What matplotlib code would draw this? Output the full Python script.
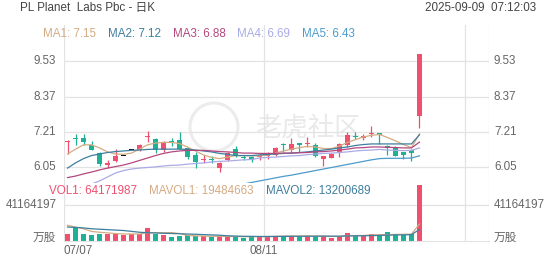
import numpy as np
import matplotlib
matplotlib.use('Agg')
import matplotlib.pyplot as plt
import matplotlib.transforms as mtrans
from matplotlib.patches import Ellipse

plt.rcParams['font.family'] = ['Liberation Sans', 'Noto Sans CJK SC', 'DejaVu Sans']

# K-line data, 45 trading days from 07/07
opens  = [6.87, 7.01, 7.02, 6.79, 6.51, 6.12, 6.25, 6.44, 6.62, 6.62,
          7.04, 6.98, 6.62, 6.92, 6.95, 6.68, 6.46, 6.31, 6.34, 6.02,
          6.30, 6.65, 6.40, 6.39, 6.38, 6.42, 6.46, 6.82, 6.62, 6.84,
          6.82, 6.79, 6.32, 6.37, 6.51, 6.79, 7.09, 7.00, 7.15, 7.17,
          6.75, 6.73, 6.55, 6.62, 7.73]
highs  = [6.95, 7.15, 7.13, 6.93, 6.54, 6.28, 6.65, 6.44, 6.62, 6.82,
          7.24, 7.01, 6.93, 7.03, 7.22, 6.72, 6.57, 6.46, 6.44, 6.24,
          6.55, 6.75, 6.46, 6.43, 6.51, 6.55, 6.73, 6.84, 7.00, 6.86,
          7.06, 6.84, 6.44, 6.51, 6.84, 7.22, 7.22, 7.15, 7.41, 7.18,
          6.77, 6.75, 6.56, 6.65, 9.76]
lows   = [6.49, 6.79, 6.77, 6.62, 6.10, 6.02, 6.23, 6.44, 6.62, 6.59,
          6.87, 6.51, 6.57, 6.75, 6.64, 6.33, 6.04, 6.21, 6.21, 5.89,
          6.26, 6.39, 6.30, 6.24, 6.30, 6.33, 6.44, 6.57, 6.51, 6.57,
          6.73, 6.38, 6.10, 6.35, 6.38, 6.73, 6.97, 6.95, 7.06, 6.82,
          6.46, 6.43, 6.32, 6.27, 7.33]
closes = [6.92, 6.97, 6.87, 6.63, 6.15, 6.21, 6.44, 6.44, 6.62, 6.80,
          7.09, 6.61, 6.89, 6.87, 6.67, 6.38, 6.22, 6.34, 6.31, 6.19,
          6.51, 6.44, 6.37, 6.31, 6.42, 6.46, 6.68, 6.78, 6.82, 6.80,
          6.86, 6.43, 6.43, 6.48, 6.82, 7.11, 7.04, 7.09, 7.19, 7.11,
          6.68, 6.44, 6.46, 6.53, 9.75]
# volume in millions of shares
volumes = [8.0, 15.7, 7.6, 6.5, 8.4, 8.4, 8.0, 6.5, 8.0, 8.0,
           14.5, 8.4, 6.9, 4.6, 5.7, 6.5, 5.7, 5.3, 4.6, 5.3,
           5.3, 5.3, 3.8, 5.3, 5.3, 5.3, 6.1, 5.7, 5.7, 5.7,
           5.7, 5.3, 5.7, 3.8, 6.1, 9.5, 6.1, 5.7, 7.6, 6.9,
           10.0, 6.9, 6.9, 8.0, 64.171987]

ma1 = [6.49, 6.65, 6.79, 6.79, 6.69, 6.56, 6.49, 6.48, 6.52, 6.65,
       6.79, 6.85, 6.87, 6.87, 6.83, 6.72, 6.59, 6.46, 6.38, 6.34,
       6.39, 6.44, 6.44, 6.43, 6.43, 6.46, 6.52, 6.59, 6.65, 6.70,
       6.74, 6.72, 6.67, 6.67, 6.75, 6.87, 6.96, 7.05, 7.10, 7.13,
       7.03, 6.92, 6.80, 6.70, 7.15]
ma2 = [6.03, 6.20, 6.34, 6.44, 6.49, 6.54, 6.57, 6.59, 6.61, 6.62,
       6.64, 6.65, 6.65, 6.65, 6.65, 6.64, 6.62, 6.59, 6.56, 6.51,
       6.48, 6.44, 6.44, 6.44, 6.46, 6.48, 6.49, 6.51, 6.52, 6.54,
       6.56, 6.59, 6.62, 6.65, 6.69, 6.72, 6.77, 6.80, 6.82, 6.82,
       6.82, 6.82, 6.82, 6.82, 7.12]
ma3 = [5.72, 5.77, 5.84, 5.90, 5.97, 6.03, 6.08, 6.13, 6.20, 6.28,
       6.36, 6.44, 6.51, 6.56, 6.59, 6.61, 6.61, 6.61, 6.59, 6.57,
       6.56, 6.54, 6.52, 6.52, 6.51, 6.51, 6.51, 6.52, 6.52, 6.53,
       6.54, 6.56, 6.57, 6.59, 6.62, 6.65, 6.69, 6.70, 6.72, 6.72,
       6.71, 6.70, 6.69, 6.69, 6.88]
ma4 = [5.31, 5.38, 5.45, 5.51, 5.61, 5.74, 5.87, 5.95, 6.00, 6.03,
       6.05, 6.07, 6.10, 6.12, 6.13, 6.16, 6.18, 6.20, 6.23, 6.25,
       6.26, 6.28, 6.30, 6.31, 6.36, 6.38, 6.39, 6.41, 6.43, 6.44,
       6.47, 6.49, 6.51, 6.52, 6.54, 6.56, 6.59, 6.61, 6.62, 6.64,
       6.62, 6.61, 6.60, 6.61, 6.69]
ma5 = [np.nan] * 22 + [
       5.51, 5.56, 5.61, 5.66, 5.71, 5.76, 5.80, 5.85, 5.90, 5.95,
       6.00, 6.05, 6.10, 6.15, 6.20, 6.25, 6.30, 6.34, 6.35, 6.35,
       6.35, 6.36, 6.43]
mavol1 = [18, 16, 14, 11, 10, 9.3, 8.5, 8, 8, 8,
          9.4, 9.6, 9.6, 9.6, 8.6, 6.5, 5.9, 5.6, 5.4, 5.4,
          5.2, 5.2, 4.9, 5, 5, 5, 5.4, 5.6, 5.7, 5.7,
          5.8, 5.6, 5.6, 5.3, 5.3, 6.2, 6.2, 6.3, 7.0, 7.2,
          7.3, 7.5, 7.7, 7.9, 19.484663]
mavol2 = [16, 15.5, 15, 14, 13.5, 13, 12.5, 12, 11, 10,
          9.5, 9.2, 8.8, 8.6, 8.3, 8, 7.7, 7.3, 7, 6.6,
          6, 5.6, 5.4, 5.3, 5.2, 5.2, 5.2, 5.3, 5.4, 5.4,
          5.5, 5.5, 5.6, 5.5, 5.5, 5.8, 5.9, 6, 6.2, 6.4,
          6.8, 7.0, 7.0, 7.3, 13.200689]

price_ticks = [9.53, 8.37, 7.21, 6.05]
vol_tick = 41.164197
date_ticks = [(0, '07/07'), (25, '08/11')]
ma_labels = ['MA1: 7.15', 'MA2: 7.12', 'MA3: 6.88', 'MA4: 6.69', 'MA5: 6.43']
vol_labels = ['VOL1: 64171987', 'MAVOL1: 19484663', 'MAVOL2: 13200689']

RED = '#f0506e'
GREEN = '#1fb095'
MA_COLORS = ['#d4ab82', '#3d7f9e', '#b3487f', '#a9abe6', '#4b9ccb']
GRID = '#e3e3e3'
TXT = '#666666'
FS = 8.4

W, H = 552, 265
fig = plt.figure(figsize=(W / 100, H / 100), dpi=100)


def rect(l, t, r, b):
    return [l / W, 1 - b / H, (r - l) / W, (b - t) / H]


def fx(px):
    return px / W


def fy(py):
    return 1 - py / H


ax = fig.add_axes(rect(64, 25, 489, 183))
axv = fig.add_axes(rect(64, 183, 489, 241))

n = len(closes)
x = np.arange(n)
xlim = (-0.44, 52.69)
for a in (ax, axv):
    a.set_facecolor('none')
    a.set_xlim(*xlim)
    a.set_xticks([])
    a.set_yticks([])
    for s in a.spines.values():
        s.set_visible(False)
    for gx in (xlim[0], 24.56, 49.69, xlim[1]):
        a.axvline(gx, color=GRID, lw=0.9, zorder=0)

ax.set_ylim(5.543, 10.707)
axv.set_ylim(0, 66.4)
axv.spines['bottom'].set_visible(True)
axv.spines['bottom'].set_color(GRID)

for v in price_ticks:
    ax.axhline(v, color=GRID, lw=0.9, zorder=0)
axv.axhline(vol_tick, color=GRID, lw=0.9, zorder=0)

# candles
o = np.array(opens); c = np.array(closes)
colors = np.where(c > o, RED, np.where(c < o, GREEN, '#111111'))
bw = 0.72
ax.vlines(x, lows, highs, colors=colors, lw=0.9, zorder=2)
body_h = np.maximum(np.abs(c - o), 0.025)
bottoms = np.minimum(o, c)
ax.bar(x, body_h, bottom=bottoms, width=bw, color=colors, lw=0, zorder=3)

for ma, col in zip([ma1, ma2, ma3, ma4, ma5], MA_COLORS):
    ax.plot(x, ma, color=col, lw=0.9, zorder=4)

vcolors = np.where(c >= o, RED, GREEN)
axv.bar(x, volumes, width=bw, color=vcolors, lw=0, zorder=2)
axv.plot(x, mavol1, color=MA_COLORS[0], lw=0.9, zorder=3)
axv.plot(x, mavol2, color=MA_COLORS[1], lw=0.9, zorder=3)

# axis labels
tl = mtrans.blended_transform_factory(fig.transFigure, ax.transData)
for v in price_ticks:
    fig.text(fx(56), v, f'{v:.2f}', transform=tl, ha='right', va='center', color=TXT, fontsize=FS)
    fig.text(fx(494), v, f'{v:.2f}', transform=tl, ha='left', va='center', color=TXT, fontsize=FS)
tv = mtrans.blended_transform_factory(fig.transFigure, axv.transData)
fig.text(fx(57), vol_tick, f'{vol_tick * 1e6:.0f}', transform=tv, ha='right', va='center', color=TXT, fontsize=FS)
fig.text(fx(494), vol_tick, f'{vol_tick * 1e6:.0f}', transform=tv, ha='left', va='center', color=TXT, fontsize=FS)
fig.text(fx(56), 0, '万股', transform=tv, ha='right', va='baseline', color=TXT, fontsize=FS)
fig.text(fx(494), 0, '万股', transform=tv, ha='left', va='baseline', color=TXT, fontsize=FS)

td = mtrans.blended_transform_factory(axv.transData, fig.transFigure)
for idx, lab in date_ticks:
    gx = idx - 0.44
    fig.text(gx, fy(251), lab, transform=td, ha='left' if idx == 0 else 'center',
             va='center', color=TXT, fontsize=FS)

# header and legends
fig.text(fx(20), fy(8), 'PL Planet  Labs Pbc - 日K', ha='left', va='center', color='#444444', fontsize=FS)
fig.text(fx(536), fy(8), '2025-09-09  07:12:03', ha='right', va='center', color='#444444', fontsize=FS)
for lab, col, px in zip(ma_labels, MA_COLORS, [43, 108, 173, 237, 302]):
    fig.text(fx(px), fy(34), lab, ha='left', va='center', color=col, fontsize=FS)
for lab, col, px in zip(vol_labels, [RED, MA_COLORS[0], MA_COLORS[1]], [49, 149, 266]):
    fig.text(fx(px), fy(191), lab, ha='left', va='center', color=col, fontsize=FS)

# watermark
fig.text(fx(308), fy(128), '老虎社区', ha='center', va='center', color='#e9e9e9',
         fontsize=19, zorder=-1)
fig.add_artist(Ellipse((fx(214), fy(127)), 48 / W, 48 / H, fill=False,
                       ec='#ececec', lw=2.2, zorder=-1))

fig.savefig('out.png', dpi=100, facecolor='white')
